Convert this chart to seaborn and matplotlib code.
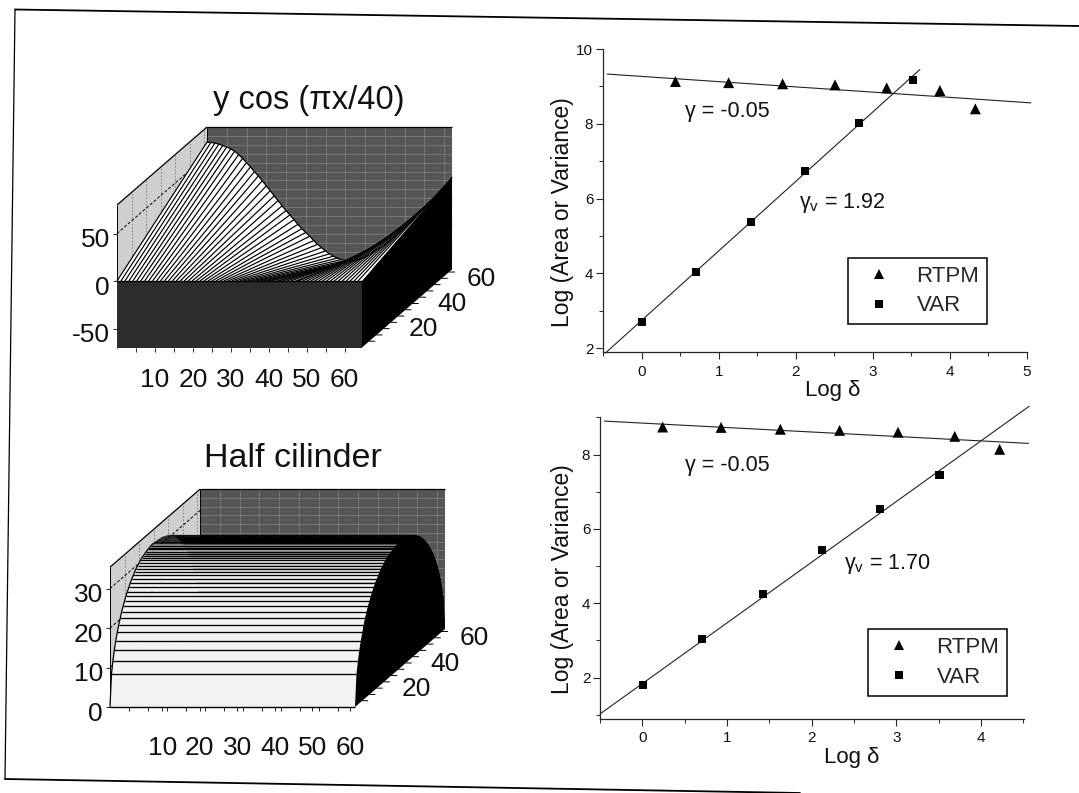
import matplotlib
matplotlib.use("Agg")
import matplotlib.pyplot as plt
from matplotlib.transforms import ScaledTranslation
import numpy as np
import pandas as pd
import seaborn as sns

# ---------- data ----------
log_delta_rtpm_a = [0.44, 1.13, 1.83, 2.51, 3.18, 3.87, 4.33]
log_area_rtpm_a = [9.13, 9.10, 9.07, 9.04, 8.96, 8.89, 8.40]
log_delta_var_a = [0.01, 0.71, 1.42, 2.12, 2.82, 3.52]
log_var_a = [2.69, 4.03, 5.38, 6.73, 8.01, 9.18]
fit_rtpm_a_x = [-0.445, 5.05]
fit_rtpm_a_y = [9.33, 8.56]
fit_var_a_x = [-0.47, 3.61]
fit_var_a_y = [1.87, 9.45]

log_delta_rtpm_b = [0.24, 0.93, 1.63, 2.33, 3.02, 3.69, 4.22]
log_area_rtpm_b = [8.74, 8.73, 8.68, 8.65, 8.60, 8.49, 8.14]
log_delta_var_b = [0.01, 0.71, 1.42, 2.12, 2.81, 3.51]
log_var_b = [1.79, 3.04, 4.25, 5.43, 6.54, 7.46]
fit_rtpm_b_x = [-0.45, 4.56]
fit_rtpm_b_y = [8.90, 8.30]
fit_var_b_x = [-0.50, 4.57]
fit_var_b_y = [1.02, 9.30]

# back-edge height of the "y cos" surface at x = 0, 1, ... 62
ycos_back_z = [64, 63.8, 63, 62, 60.5, 59, 57, 54.5, 51, 47, 42.5, 38, 33, 28.5, 23.5, 18,
               13, 7.5, 2.5, -3, -8, -12.5, -17.5, -22.5, -27, -31, -35, -39.5, -43.5, -47,
               -50.5, -53.5, -56, -58, -59.5, -60.5, -61, -61, -60, -58.5, -57, -54.5, -52,
               -49.5, -47, -44, -40.5, -37, -33.5, -30, -26, -22, -18, -13.5, -9.5, -5, -1,
               3.5, 7.5, 12, 17, 22, 27]
# height of the half cylinder at y = 0, 1, ... 62
cyl_z = [0, 8, 11, 13.5, 15.5, 17.3, 18.8, 20.2, 21.5, 22.6, 23.6, 24.6, 25.4, 26.2, 27, 27.6,
         28.2, 28.8, 29.3, 29.7, 30.1, 30.5, 30.8, 31, 31.2, 31.4, 31.6, 31.7, 31.8, 31.9, 31.9,
         32, 31.9, 31.9, 31.8, 31.7, 31.6, 31.4, 31.2, 31, 30.8, 30.5, 30.1, 29.7, 29.3, 28.8,
         28.2, 27.6, 27, 26.2, 25.4, 24.6, 23.6, 22.6, 21.5, 20.2, 18.8, 17.3, 15.5, 13.5, 11, 8, 0]
x_tick_values = [10, 20, 30, 40, 50, 60]
depth_tick_values = [20, 40, 60]
ycos_z_ticks = [-50, 0, 50]
cyl_z_ticks = [0, 10, 20, 30]
frame_x = [15, 1079]
frame_top_y = [9.5, 26]
frame_bottom_x = [5, 800]
frame_bottom_y = [779, 793]
frame_left_x = [15, 5]
frame_left_y = [9.5, 779]

# ---------- style ----------
sns.set_theme(style="ticks")
plt.rcParams["font.family"] = ["Liberation Sans", "DejaVu Sans"]
plt.rcParams["mathtext.fontset"] = "custom"
plt.rcParams["mathtext.rm"] = "Liberation Sans"
plt.rcParams["mathtext.default"] = "rm"

W, H = 1079, 793
fig = plt.figure(figsize=(W / 100, H / 100), dpi=100, facecolor="white")


def axes_px(l, t, r, b, **kw):
    return fig.add_axes([l / W, 1 - b / H, (r - l) / W, (b - t) / H], **kw)


# scanned page frame
bg = axes_px(0, 0, W, H, zorder=-5)
bg.set_xlim(0, W)
bg.set_ylim(H, 0)
bg.axis("off")
sns.lineplot(x=frame_x, y=frame_top_y, ax=bg, color="black", lw=1.3, estimator=None, sort=False)
sns.lineplot(x=frame_bottom_x, y=frame_bottom_y, ax=bg, color="black", lw=1.3, estimator=None, sort=False)
sns.lineplot(x=frame_left_x, y=frame_left_y, ax=bg, color="black", lw=0.9, estimator=None, sort=False)


def oblique_axes(left, top, bottom, zfloor, zscale, title, title_x, title_y, title_size):
    """Axes with x in surface units and z in height units; depth is sheared in."""
    xscale = 245 / 62
    ax = axes_px(left, top, left + 335, bottom)
    ax.set_xlim(0, 335 / xscale)
    ax.set_ylim(zfloor, zfloor + (bottom - top) / zscale)
    ax.patch.set_alpha(0)
    for s in ax.spines.values():
        s.set_visible(False)
    k1 = (90 / 62) / xscale
    k2 = (78 / 62) / zscale
    ax.set_title(title, x=title_x, y=title_y, pad=0, fontsize=title_size, color="#111111")
    return ax, (lambda x, y, z: (np.asarray(x) + k1 * np.asarray(y), np.asarray(z) + k2 * np.asarray(y)))


def poly(ax, proj, pts, color, z, **kw):
    xs, ys, zs = zip(*pts)
    px, py = proj(xs, ys, zs)
    ax.fill(px, py, color=color, zorder=z, clip_on=False, lw=kw.pop("lw", 0), **kw)


def seg(ax, proj, a, b, z, **kw):
    px, py = proj([a[0], b[0]], [a[1], b[1]], [a[2], b[2]])
    ax.plot(px, py, zorder=z, clip_on=False, solid_capstyle="butt", **kw)


def walls(ax, proj, zlo, zhi, zgrid, xmax=62, ymax=62):
    poly(ax, proj, [(0, ymax, zlo), (xmax, ymax, zlo), (xmax, ymax, zhi), (0, ymax, zhi)], "#565656", 1)
    poly(ax, proj, [(0, 0, zlo), (0, ymax, zlo), (0, ymax, zhi), (0, 0, zhi)], "#cfcfcf", 1)
    for xg in range(0, xmax + 1, 5):
        seg(ax, proj, (xg, ymax, zlo), (xg, ymax, zhi), 1.2, color="#848484", lw=0.5)
    step = (zhi - zlo) / 16
    for i in range(1, 16):
        zg = zlo + i * step
        seg(ax, proj, (0, ymax, zg), (xmax, ymax, zg), 1.2, color="#848484", lw=0.5)
    for yg in range(10, ymax, 10):
        seg(ax, proj, (0, yg, zlo), (0, yg, zhi), 1.2, color="#777777", lw=0.6, ls=(0, (2, 2)))
    for zg in zgrid:
        seg(ax, proj, (0, 0, zg), (0, ymax, zg), 1.3, color="black", lw=0.7, ls=(0, (3, 2)))
    seg(ax, proj, (0, 0, zhi), (0, ymax, zhi), 1.4, color="black", lw=0.9)
    seg(ax, proj, (0, ymax, zhi), (xmax, ymax, zhi), 1.4, color="black", lw=0.9)
    seg(ax, proj, (0, ymax, zhi), (0, ymax, zlo), 1.4, color="black", lw=0.7)
    seg(ax, proj, (0, 0, zhi), (0, 0, zlo), 1.4, color="black", lw=0.7)


def depth_ticks(ax, proj, zlo):
    for d in range(5, 62, 5):
        px, py = proj([62], [d], [zlo])
        ax.annotate("", xy=(px[0], py[0]), xytext=(4, 0), textcoords="offset points",
                    arrowprops=dict(arrowstyle="-", lw=0.7, color="black", shrinkA=0, shrinkB=0),
                    annotation_clip=False)
    for d in depth_tick_values:
        px, py = proj([62], [d], [zlo])
        ax.annotate(str(d), xy=(px[0], py[0]), xytext=(23, -5), textcoords="offset points",
                    ha="center", va="center", fontsize=19, color="#111111", annotation_clip=False)


def ticks(ax, xt, zt, xpad, ylabel_shift_pt):
    ax.set_xticks(xt, [str(v) for v in x_tick_values])
    ax.set_xticks(np.arange(4.8, 62, 4.8), minor=True)
    ax.set_yticks(zt, [str(v) for v in zt])
    ax.tick_params(axis="x", which="major", length=3, width=0.7, pad=xpad, labelsize=19, labelcolor="#111111")
    ax.tick_params(axis="x", which="minor", length=3, width=0.7)
    ax.tick_params(axis="y", which="major", length=3, width=0.7, pad=2, labelsize=19, labelcolor="#111111")
    for lab in ax.get_yticklabels():
        lab.set_transform(lab.get_transform() + ScaledTranslation(0, ylabel_shift_pt / 72, fig.dpi_scale_trans))


# ---------- y cos surface ----------
ax1, p1 = oblique_axes(117, 127, 347.5, -70, 0.95, "y cos (\u03c0x/40)", (309 - 117) / 335, 1.08, 23.5)
walls(ax1, p1, -70, 80, [0, 50])
zb = ycos_back_z
for i in range(62):
    a, b = (i, 0, 0), (i + 1, 0, 0)
    c, d = (i + 1, 62, zb[i + 1]), (i, 62, zb[i])
    sx, sy = p1([a[0], b[0], c[0], d[0]], [a[1], b[1], c[1], d[1]], [a[2], b[2], c[2], d[2]])
    # screen y runs with z here, scale the area test to pixels
    sxp, syp = sx * 245 / 62, sy * 0.95
    area = 0.5 * np.sum(sxp * np.roll(syp, -1) - np.roll(sxp, -1) * syp)
    front = area > 0
    z = 3 + i * 0.01
    poly(ax1, p1, [a, b, c, d], "white" if front else "black", z)
    if front:
        seg(ax1, p1, a, d, z + 0.001, color="black", lw=0.85)
    else:
        seg(ax1, p1, a, d, z + 0.001, color="black", lw=0.3)
px, py = p1(np.arange(63), np.full(63, 62), zb)
ax1.plot(px, py, color="black", lw=0.9, zorder=4, clip_on=False)
poly(ax1, p1, [(62, 0, -70), (62, 62, -70), (62, 62, zb[-1]), (62, 0, 0)], "black", 5)
poly(ax1, p1, [(0, 0, -70), (62, 0, -70), (62, 0, 0), (0, 0, 0)], "#2c2c2c", 6)
seg(ax1, p1, (0, 0, 0), (62, 0, 0), 7, color="black", lw=1.0)
ticks(ax1, [v * 0.96 for v in x_tick_values], ycos_z_ticks, 12, -3)
depth_ticks(ax1, p1, -70)

# ---------- half cylinder ----------
ax2, p2 = oblique_axes(110, 489, 707, 0, 3.95, "Half cilinder", (293 - 110) / 335, 1.10, 24.5)
walls(ax2, p2, 0, 35.4, [10, 20, 30])
zc = cyl_z
for j in range(61, -1, -1):
    ymid = j + 0.5
    if ymid >= 29:
        col = "black"
    elif ymid >= 20:
        col = str(0.95 - (ymid - 20) * 0.04)
    else:
        col = "#f2f2f2"
    z = 3 + (62 - j) * 0.01
    poly(ax2, p2, [(0, j, zc[j]), (62, j, zc[j]), (62, j + 1, zc[j + 1]), (0, j + 1, zc[j + 1])], col, z)
for j in range(1, 29):
    seg(ax2, p2, (0, j, zc[j]), (62, j, zc[j]), 4.5, color="black", lw=0.95)
ys = np.arange(31)
px, py = p2(np.zeros(31), ys, zc[:31])
ax2.plot(px, py, color="black", lw=0.9, zorder=4.6, clip_on=False)
arch = [(62, y, zc[y]) for y in range(63)]
poly(ax2, p2, arch + [(62, 62, 0), (62, 0, 0)], "black", 5)
seg(ax2, p2, (0, 0, 0), (62, 0, 0), 7, color="black", lw=1.0)
ticks(ax2, [v * 0.95 + 3.7 for v in x_tick_values], cyl_z_ticks, 18, -3)
depth_ticks(ax2, p2, 0)


# ---------- log-log panels ----------
def scaling_panel(box, xlim, ylim, xt, yt, rtpm, var, fit_r, fit_v, txt, leg_box, ylab_px, xlab_px):
    l, t, r, b = box
    ax = axes_px(l, t, r, b)
    ax.patch.set_alpha(0)
    df = pd.DataFrame({
        "x": list(rtpm[0]) + list(var[0]),
        "y": list(rtpm[1]) + list(var[1]),
        "series": ["RTPM"] * len(rtpm[0]) + ["VAR"] * len(var[0]),
    })
    sns.lineplot(x=fit_r[0], y=fit_r[1], ax=ax, color="#222222", lw=0.8, estimator=None, sort=False, clip_on=False)
    sns.lineplot(x=fit_v[0], y=fit_v[1], ax=ax, color="#222222", lw=0.8, estimator=None, sort=False, clip_on=False)
    sns.scatterplot(data=df, x="x", y="y", style="series", size="series",
                    markers={"RTPM": "^", "VAR": "s"}, sizes={"RTPM": 62, "VAR": 34},
                    color="black", linewidth=0, ax=ax, clip_on=False, legend=True, zorder=3)
    ax.set_xlim(*xlim)
    ax.set_ylim(*ylim)
    ax.set_xticks(xt[0], xt[1])
    ax.set_yticks(yt)
    ax.set_xticks(np.arange(-0.5, xlim[1] + 0.01, 0.5), minor=True)
    odd = np.arange(yt[0] - 1, ylim[1], 2)
    ax.set_yticks(odd[odd > ylim[0]], minor=True)
    ax.tick_params(which="major", length=5, width=0.8, labelsize=11, pad=4, labelcolor="#111111")
    ax.tick_params(axis="y", which="major", pad=2)
    ax.tick_params(which="minor", length=3, width=0.7)
    sns.despine(ax=ax)
    for s in ("left", "bottom"):
        ax.spines[s].set_linewidth(0.9)
    ax.set_xlabel("Log \u03b4", fontsize=16, color="#111111")
    ax.set_ylabel("Log (Area or Variance)", fontsize=16.5, color="#111111")
    ax.xaxis.set_label_coords((xlab_px[0] - l) / (r - l), 1 - (xlab_px[1] - t) / (b - t))
    ax.yaxis.set_label_coords((ylab_px[0] - l) / (r - l), 1 - (ylab_px[1] - t) / (b - t))
    ax.xaxis.label.set_va("center")
    ax.yaxis.label.set_va("center")
    for (tx, ty, s) in txt:
        ax.text(tx, ty, s, fontsize=15.5, va="center", ha="left", color="#111111")
    handles, labels = ax.get_legend_handles_labels()
    keep = [(h, lb) for h, lb in zip(handles, labels) if lb in ("RTPM", "VAR")]
    lx, ly = (leg_box[0] + leg_box[2]) / 2, (leg_box[1] + leg_box[3]) / 2
    leg = ax.legend([k[0] for k in keep], [k[1] for k in keep], loc="center",
                    bbox_to_anchor=((lx - l) / (r - l), 1 - (ly - t) / (b - t)),
                    fontsize=16, fancybox=False, edgecolor="black", framealpha=1,
                    borderpad=0.35, labelspacing=0.4, handletextpad=0.65, borderaxespad=0, handlelength=2.1,
                    markerscale=0.9)
    leg.get_frame().set_linewidth(1.1)
    return ax


scaling_panel((603, 49, 1027, 352), (-0.478, 5), (1.90, 10),
              ([0, 1, 2, 3, 4, 5], ["0", "1", "2", "3", "4", "5"]), [2, 4, 6, 8, 10],
              (log_delta_rtpm_a, log_area_rtpm_a), (log_delta_var_a, log_var_a),
              (fit_rtpm_a_x, fit_rtpm_a_y), (fit_var_a_x, fit_var_a_y),
              [(0.57, 8.34, "\u03b3 = -0.05"), (2.04, 5.88, "\u03b3$_{\\mathrm{v}}$ = 1.92")],
              (847, 257, 988, 325), (563, 212), (833, 390))
scaling_panel((600, 417, 1024, 718.5), (-0.494, 4.508), (0.898, 9.01),
              ([0, 1, 2, 3, 4], ["0", "1", "2", "3", "4"]), [2, 4, 6, 8],
              (log_delta_rtpm_b, log_area_rtpm_b), (log_delta_var_b, log_var_b),
              (fit_rtpm_b_x, fit_rtpm_b_y), (fit_var_b_x, fit_var_b_y),
              [(0.50, 7.71, "\u03b3 = -0.05"), (2.38, 5.05, "\u03b3$_{\\mathrm{v}}$ = 1.70")],
              (867, 628, 1008, 697), (563, 579), (852, 757))

fig.savefig("out.png", dpi=100, facecolor="white")
